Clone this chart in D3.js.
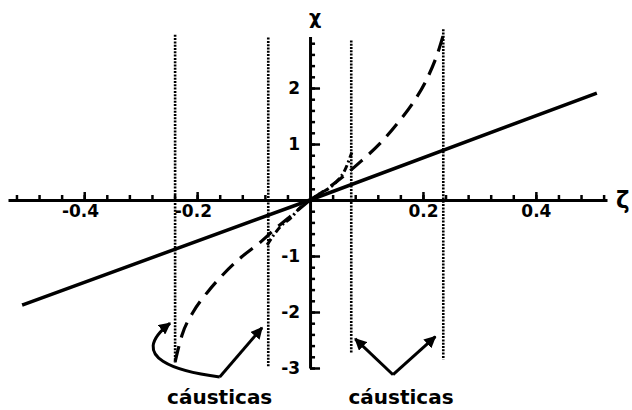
<!DOCTYPE html>
<html>
<head>
<meta charset="utf-8">
<script src="https://cdn.jsdelivr.net/npm/d3@7"></script>
<style>
  html, body { margin: 0; padding: 0; background: #fff; }
  svg { display: block; }
  text { font-family: "DejaVu Sans", sans-serif; font-weight: bold; fill: #000; }
</style>
</head>
<body>
<svg id="chart" width="632" height="410"></svg>
<script>
// ζ positions of the four caustics and their vertical extent in χ
const causticZeta = [-0.239, -0.074, 0.073, 0.236];
const causticTop = [2.95, 2.9, 2.85, 3.05];
const causticBottom = [-2.9, -2.98, -2.73, -2.85];

// linear branch χ ∝ ζ
const lineZeta = [-0.51, 0, 0.508];
const lineChi = [-1.875, 0, 1.91];

// dashed branches running out to the outer caustics
const dashRZeta = [0, 0.03, 0.06, 0.09, 0.124, 0.154, 0.182, 0.207, 0.227, 0.239];
const dashRChi = [0, 0.2, 0.43, 0.69, 1.01, 1.36, 1.73, 2.16, 2.65, 3.05];
const dashLZeta = [0, -0.03, -0.06, -0.09, -0.124, -0.154, -0.182, -0.207, -0.227, -0.239];
const dashLChi = [0, -0.25, -0.5, -0.77, -1.04, -1.33, -1.65, -2.0, -2.42, -2.89];

// dash-dot branches ending at the inner caustics
const dotRZeta = [0, 0.02, 0.035, 0.048, 0.06, 0.074];
const dotRChi = [0, 0.13, 0.22, 0.34, 0.5, 0.85];
const dotLZeta = [0, -0.02, -0.032, -0.053, -0.076];
const dotLChi = [0, -0.16, -0.3, -0.48, -0.8];

// axis ticks
const xTicks = d3.range(-13, 14).filter(i => i !== 0).map(i => +(i * 0.04).toFixed(2));
const xMajor = [-0.4, -0.2, 0.2, 0.4];
const yTicks = d3.range(-15, 15).filter(i => i !== 0).map(i => +(i * 0.2).toFixed(1));
const yMajor = [-3, -2, -1, 1, 2];

// annotation arrows (ζ, χ): vertex and the two tips
const labelText = "cáusticas";
const leftVertex = [-0.16, -3.16];
const leftTips = [[-0.248, -2.2], [-0.085, -2.28]];
const rightVertex = [0.147, -3.12];
const rightTips = [[0.08, -2.48], [0.222, -2.44]];

const svg = d3.select("#chart");
const x = d3.scaleLinear().domain([-0.535, 0.526]).range([8, 607]);
const y = d3.scaleLinear().domain([-3.0, 2.92]).range([368, 36.5]);

// caustic lines (dotted)
svg.append("g").selectAll("line")
  .data(causticZeta)
  .join("line")
  .attr("x1", d => x(d)).attr("x2", d => x(d))
  .attr("y1", (d, i) => y(causticTop[i]))
  .attr("y2", (d, i) => y(causticBottom[i]))
  .attr("stroke", "#000")
  .attr("stroke-width", 2.6)
  .attr("stroke-dasharray", "2,1.3");

// x axis: minor ticks, then major ticks with labels below
const fmt = d => d.toFixed(1);
const gx = svg.append("g").attr("transform", `translate(0,${y(0)})`);
gx.call(d3.axisBottom(x).tickValues(xTicks).tickSize(-5).tickSizeOuter(0).tickFormat(""));
const gxMaj = svg.append("g").attr("transform", `translate(0,${y(0)})`);
gxMaj.call(d3.axisBottom(x).tickValues(xMajor).tickSize(-8).tickSizeOuter(0).tickPadding(5).tickFormat(fmt));
gxMaj.select(".domain").remove();
gxMaj.selectAll("text").attr("font-size", 17).attr("dx", d => d < 0 ? "-0.25em" : 0);
[gx, gxMaj].forEach(g => {
  g.selectAll(".domain").attr("stroke-width", 3);
  g.selectAll(".tick line").attr("stroke-width", 2.5);
});

// y axis: ticks to the right, labels on the left
const gy = svg.append("g").attr("transform", `translate(${x(0)},0)`);
gy.call(d3.axisLeft(y).tickValues(yTicks).tickSize(-5).tickSizeOuter(0).tickFormat(""));
const gyMaj = svg.append("g").attr("transform", `translate(${x(0)},0)`);
gyMaj.call(d3.axisLeft(y).tickValues(yMajor).tickSize(-10).tickSizeOuter(0).tickPadding(10).tickFormat(d => d));
gyMaj.select(".domain").remove();
gyMaj.selectAll("text").attr("font-size", 17);
[gy, gyMaj].forEach(g => {
  g.selectAll(".domain").attr("stroke-width", 3);
  g.selectAll(".tick line").attr("stroke-width", 2.5);
});

// axis titles
svg.append("text").attr("x", x(0) + 5).attr("y", 24).attr("text-anchor", "middle")
  .attr("font-size", 19).text("χ");
svg.append("text").attr("x", 616).attr("y", 208).attr("font-size", 23).text("ζ");

// curves
const curve = (zs, cs) => d3.line().curve(d3.curveMonotoneX)
  .x(d => x(d[0])).y(d => y(d[1]))(zs.map((z, i) => [z, cs[i]]).sort((a, b) => a[0] - b[0]));

svg.append("path").attr("d", curve(lineZeta, lineChi))
  .attr("fill", "none").attr("stroke", "#000").attr("stroke-width", 3.5);

[[dashRZeta, dashRChi], [dashLZeta, dashLChi]].forEach(([zs, cs]) => {
  svg.append("path").attr("d", curve(zs, cs))
    .attr("fill", "none").attr("stroke", "#000").attr("stroke-width", 3.2)
    .attr("stroke-dasharray", "16,9");
});
[[dotRZeta, dotRChi], [dotLZeta, dotLChi]].forEach(([zs, cs]) => {
  svg.append("path").attr("d", curve(zs, cs))
    .attr("fill", "none").attr("stroke", "#000").attr("stroke-width", 3)
    .attr("stroke-dasharray", "7,3,2,3");
});

// arrowheads
const defs = svg.append("defs");
defs.append("marker").attr("id", "head")
  .attr("viewBox", "0 0 10 10").attr("refX", 9).attr("refY", 5)
  .attr("markerWidth", 4).attr("markerHeight", 4).attr("orient", "auto")
  .append("path").attr("d", "M0,0L10,5L0,10Z").attr("fill", "#000");

const P = p => [x(p[0]), y(p[1])];

// left annotation: a curved branch to the outer caustic, a straight one to the inner
{
  const v = P(leftVertex), a = P(leftTips[0]), b = P(leftTips[1]);
  const path = d3.path();
  path.moveTo(v[0], v[1]);
  path.bezierCurveTo(v[0] - 40, v[1] - 5, a[0] - 45, a[1] + 35, a[0], a[1]);
  svg.append("path").attr("d", path.toString())
    .attr("fill", "none").attr("stroke", "#000").attr("stroke-width", 3)
    .attr("marker-end", "url(#head)");
  svg.append("line").attr("x1", v[0]).attr("y1", v[1]).attr("x2", b[0]).attr("y2", b[1])
    .attr("stroke", "#000").attr("stroke-width", 3).attr("marker-end", "url(#head)");
}
// right annotation: two straight branches
{
  const v = P(rightVertex);
  rightTips.forEach(t => {
    const p = P(t);
    svg.append("line").attr("x1", v[0]).attr("y1", v[1]).attr("x2", p[0]).attr("y2", p[1])
      .attr("stroke", "#000").attr("stroke-width", 3).attr("marker-end", "url(#head)");
  });
}

// labels under the arrows
svg.append("text").attr("x", x(leftVertex[0])).attr("y", 404).attr("text-anchor", "middle")
  .attr("font-family", "'DejaVu Sans Condensed', 'DejaVu Sans', sans-serif")
  .attr("font-size", 20).text(labelText);
svg.append("text").attr("x", x(rightVertex[0]) + 8).attr("y", 404).attr("text-anchor", "middle")
  .attr("font-family", "'DejaVu Sans Condensed', 'DejaVu Sans', sans-serif")
  .attr("font-size", 20).text(labelText);
</script>
</body>
</html>
